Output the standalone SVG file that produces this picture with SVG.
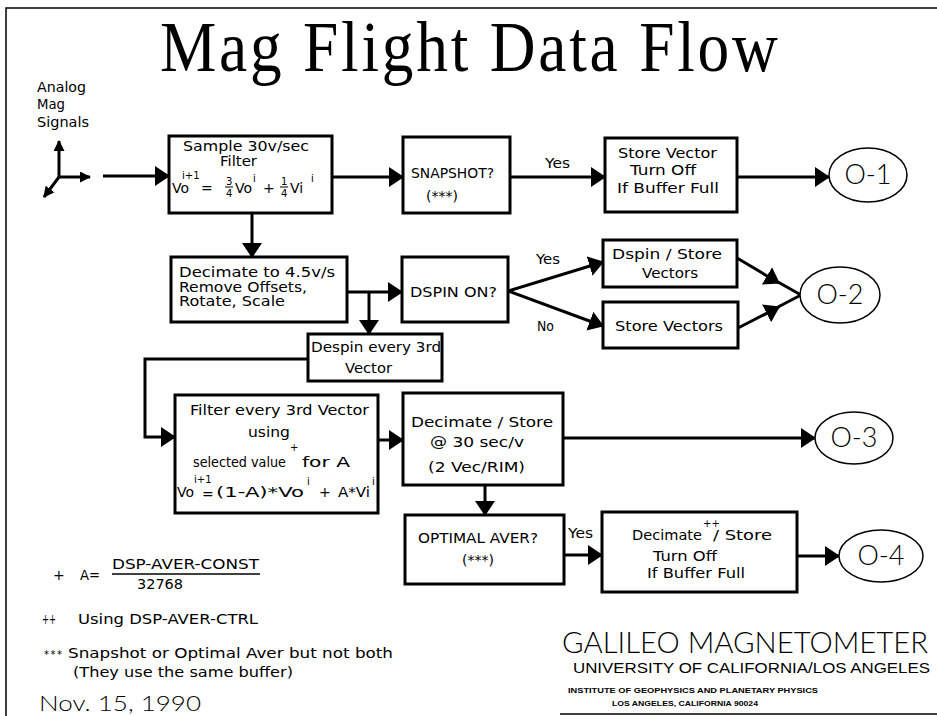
<svg xmlns="http://www.w3.org/2000/svg" width="937" height="716" viewBox="0 0 937 716">
<style>
.box{fill:#fff;stroke:#000;stroke-width:3}
.ln{fill:none;stroke:#000;stroke-width:3}
.thin{fill:none;stroke:#000;stroke-width:1.5}
.t{font-family:"DejaVu Sans",sans-serif;font-size:14px;fill:#000}
.c{text-anchor:middle}
.s{font-size:10px}
.o{font-family:Lato,"Liberation Sans",sans-serif;font-weight:300;font-size:27px;fill:#000;text-anchor:middle}
.ell{fill:#fff;stroke:#000;stroke-width:1.5}
.lt{font-family:Lato,"Liberation Sans",sans-serif;font-weight:300;fill:#000}
</style>
<defs>
<marker id="ah" viewBox="0 0 15 20" refX="14" refY="10" markerWidth="15" markerHeight="20" markerUnits="userSpaceOnUse" orient="auto"><path d="M0,0 L15,10 L0,20 z" fill="#000"/></marker>
<marker id="ahs" viewBox="0 0 11 11" refX="10" refY="5.5" markerWidth="11" markerHeight="11" markerUnits="userSpaceOnUse" orient="auto"><path d="M0,0 L11,5.5 L0,11 z" fill="#000"/></marker>
</defs>
<rect width="937" height="716" fill="#fff"/>
<path class="thin" d="M6,716 L6,8 L937,8"/>
<line class="thin" x1="560" y1="714" x2="937" y2="714"/>

<text transform="translate(160,71) scale(0.88,1)" font-family="Liberation Serif,serif" font-size="72" textLength="702">Mag Flight Data Flow</text>

<g id="signals">
<text class="t" x="37" y="92" font-size="13" textLength="49" lengthAdjust="spacingAndGlyphs">Analog</text>
<text class="t" x="37" y="109" font-size="13" textLength="28" lengthAdjust="spacingAndGlyphs">Mag</text>
<text class="t" x="37" y="127" font-size="13" textLength="52" lengthAdjust="spacingAndGlyphs">Signals</text>
<line class="ln" x1="59" y1="177" x2="59" y2="141" marker-end="url(#ahs)"/>
<line class="ln" x1="58" y1="177" x2="90" y2="177" marker-end="url(#ahs)"/>
<line class="ln" x1="59" y1="177" x2="44" y2="197" marker-end="url(#ahs)"/>
</g>

<g id="connectors">
<line class="ln" x1="103" y1="176" x2="169" y2="176" marker-end="url(#ah)"/>
<line class="ln" x1="332" y1="177" x2="403" y2="177" marker-end="url(#ah)"/>
<line class="ln" x1="510" y1="177" x2="605" y2="177" marker-end="url(#ah)"/>
<line class="ln" x1="737" y1="177" x2="829" y2="177" marker-end="url(#ah)"/>
<line class="ln" x1="252" y1="213" x2="252" y2="257" marker-end="url(#ah)"/>
<line class="ln" x1="347" y1="292" x2="402" y2="292" marker-end="url(#ah)"/>
<line class="ln" x1="369" y1="292" x2="369" y2="334" marker-end="url(#ah)"/>
<line class="ln" x1="508" y1="291" x2="603" y2="262" marker-end="url(#ah)"/>
<line class="ln" x1="508" y1="291" x2="603" y2="326" marker-end="url(#ah)"/>
<line class="ln" x1="737" y1="258" x2="779" y2="283" marker-end="url(#ah)"/>
<line class="ln" x1="778" y1="282" x2="801" y2="295"/>
<line class="ln" x1="738" y1="328" x2="779" y2="307" marker-end="url(#ah)"/>
<line class="ln" x1="778" y1="307" x2="801" y2="295"/>
<polyline class="ln" points="308,359 145,359 145,437 175,437" marker-end="url(#ah)"/>
<line class="ln" x1="378" y1="440" x2="403" y2="440" marker-end="url(#ah)"/>
<line class="ln" x1="563" y1="438" x2="815" y2="438" marker-end="url(#ah)"/>
<line class="ln" x1="485" y1="485" x2="485" y2="515" marker-end="url(#ah)"/>
<line class="ln" x1="564" y1="555" x2="602" y2="555" marker-end="url(#ah)"/>
<line class="ln" x1="797" y1="556" x2="839" y2="556" marker-end="url(#ah)"/>
<text class="t" x="545" y="168" textLength="25" lengthAdjust="spacingAndGlyphs">Yes</text>
<text class="t" x="536" y="264" textLength="24" lengthAdjust="spacingAndGlyphs">Yes</text>
<text class="t" x="537" y="331" textLength="17" lengthAdjust="spacingAndGlyphs">No</text>
<text class="t" x="568" y="538" textLength="25" lengthAdjust="spacingAndGlyphs">Yes</text>
</g>

<g id="sample">
<rect class="box" x="169" y="136" width="163" height="77"/>
<text class="t" x="183" y="151" font-size="12" textLength="126" lengthAdjust="spacingAndGlyphs">Sample 30v/sec</text>
<text class="t" x="220" y="166" font-size="11.5" textLength="37" lengthAdjust="spacingAndGlyphs">Filter</text>
<text class="t" x="172" y="193">Vo</text>
<text class="t s" x="182" y="179">i+1</text>
<text class="t" x="201" y="193">=</text>
<text class="t s" x="226" y="185">3</text>
<line x1="225" y1="187" x2="233" y2="187" stroke="#000" stroke-width="1"/>
<text class="t s" x="226" y="197">4</text>
<text class="t" x="235" y="193">Vo</text>
<text class="t s" x="253" y="182">i</text>
<text class="t" x="263" y="193">+</text>
<text class="t s" x="281" y="185">1</text>
<line x1="280" y1="187" x2="288" y2="187" stroke="#000" stroke-width="1"/>
<text class="t s" x="281" y="197">4</text>
<text class="t" x="290" y="193">Vi</text>
<text class="t s" x="311" y="182">i</text>
</g>

<g id="snapshot">
<rect class="box" x="403" y="137" width="107" height="76"/>
<text class="t" x="411" y="178" textLength="83" lengthAdjust="spacingAndGlyphs">SNAPSHOT?</text>
<text class="t c" x="442" y="201" font-size="12">(***)</text>
</g>

<g id="storevector">
<rect class="box" x="605" y="138" width="132" height="74"/>
<text class="t" x="618" y="158" textLength="99" lengthAdjust="spacingAndGlyphs">Store Vector</text>
<text class="t" x="630" y="175" textLength="66" lengthAdjust="spacingAndGlyphs">Turn Off</text>
<text class="t" x="617" y="193" textLength="102" lengthAdjust="spacingAndGlyphs">If Buffer Full</text>
</g>

<g id="o1">
<ellipse class="ell" cx="868" cy="175" rx="39" ry="27"/>
<text class="o" x="868" y="184">O-1</text>
</g>

<g id="decimate">
<rect class="box" x="171" y="257" width="176" height="65"/>
<text class="t" x="179" y="277" font-size="12" textLength="156" lengthAdjust="spacingAndGlyphs">Decimate to 4.5v/s</text>
<text class="t" x="179" y="291.5" font-size="12" textLength="128" lengthAdjust="spacingAndGlyphs">Remove Offsets,</text>
<text class="t" x="179" y="306" font-size="12" textLength="106" lengthAdjust="spacingAndGlyphs">Rotate, Scale</text>
</g>

<g id="dspinon">
<rect class="box" x="402" y="257" width="106" height="65"/>
<text class="t" x="410" y="297" textLength="87" lengthAdjust="spacingAndGlyphs">DSPIN ON?</text>
</g>

<g id="dspinstore">
<rect class="box" x="603" y="240" width="134" height="47"/>
<text class="t" x="612" y="259" textLength="110" lengthAdjust="spacingAndGlyphs">Dspin / Store</text>
<text class="t" x="642" y="278" textLength="56" lengthAdjust="spacingAndGlyphs">Vectors</text>
</g>

<g id="storevectors">
<rect class="box" x="603" y="302" width="135" height="46"/>
<text class="t" x="615" y="331" textLength="108" lengthAdjust="spacingAndGlyphs">Store Vectors</text>
</g>

<g id="o2">
<ellipse class="ell" cx="840" cy="295" rx="40" ry="28"/>
<text class="o" x="840" y="304">O-2</text>
</g>

<g id="despin">
<rect class="box" x="308" y="334" width="134" height="47"/>
<text class="t" x="311" y="352" textLength="130" lengthAdjust="spacingAndGlyphs">Despin every 3rd</text>
<text class="t" x="345" y="373" textLength="47" lengthAdjust="spacingAndGlyphs">Vector</text>
</g>

<g id="filter">
<rect class="box" x="175" y="395" width="203" height="118"/>
<text class="t" x="190" y="415" textLength="179" lengthAdjust="spacingAndGlyphs">Filter every 3rd Vector</text>
<text class="t" x="248" y="437" textLength="42" lengthAdjust="spacingAndGlyphs">using</text>
<text class="t" x="193" y="467" textLength="93" lengthAdjust="spacingAndGlyphs">selected value</text>
<text class="t s" x="290" y="451">+</text>
<text class="t" x="302" y="467" font-size="15" textLength="48" lengthAdjust="spacingAndGlyphs">for A</text>
<text class="t" x="177" y="497">Vo</text>
<text class="t s" x="194" y="483">i+1</text>
<text class="t" x="202" y="499">=</text>
<text class="t" x="216" y="497" font-size="15" textLength="88" lengthAdjust="spacingAndGlyphs">(1-A)*Vo</text>
<text class="t s" x="307" y="485">i</text>
<text class="t" x="319" y="497">+</text>
<text class="t" x="338" y="497" textLength="32" lengthAdjust="spacingAndGlyphs">A*Vi</text>
<text class="t s" x="372" y="485">i</text>
</g>

<g id="decstore">
<rect class="box" x="403" y="393" width="160" height="92"/>
<text class="t" x="411" y="427" textLength="142" lengthAdjust="spacingAndGlyphs">Decimate / Store</text>
<text class="t" x="430" y="447" textLength="94" lengthAdjust="spacingAndGlyphs">@ 30 sec/v</text>
<text class="t" x="428" y="472" textLength="97" lengthAdjust="spacingAndGlyphs">(2 Vec/RIM)</text>
</g>

<g id="o3">
<ellipse class="ell" cx="854" cy="438" rx="39" ry="26"/>
<text class="o" x="854" y="447">O-3</text>
</g>

<g id="optimal">
<rect class="box" x="405" y="515" width="159" height="69"/>
<text class="t" x="418" y="543" textLength="120" lengthAdjust="spacingAndGlyphs">OPTIMAL AVER?</text>
<text class="t c" x="478" y="565" font-size="12">(***)</text>
</g>

<g id="decstore2">
<rect class="box" x="602" y="512" width="195" height="80"/>
<text class="t" x="632" y="540" textLength="70" lengthAdjust="spacingAndGlyphs">Decimate</text>
<text class="t s" x="703" y="527">++</text>
<text class="t" x="713" y="540" textLength="59" lengthAdjust="spacingAndGlyphs">/ Store</text>
<text class="t" x="653" y="561" textLength="64" lengthAdjust="spacingAndGlyphs">Turn Off</text>
<text class="t" x="647" y="578" textLength="98" lengthAdjust="spacingAndGlyphs">If Buffer Full</text>
</g>

<g id="o4">
<ellipse class="ell" cx="881" cy="556" rx="42" ry="26"/>
<text class="o" x="881" y="565">O-4</text>
</g>

<g id="notes">
<text class="t" x="53" y="580">+</text>
<text class="t" x="80" y="580" textLength="20" lengthAdjust="spacingAndGlyphs">A=</text>
<text class="t" x="112" y="569" textLength="147" lengthAdjust="spacingAndGlyphs">DSP-AVER-CONST</text>
<line x1="112" y1="574" x2="260" y2="574" stroke="#000" stroke-width="1.5"/>
<text class="t" x="137" y="589" textLength="46" lengthAdjust="spacingAndGlyphs">32768</text>
<text class="t" x="42" y="624" font-size="11" textLength="14" lengthAdjust="spacingAndGlyphs">++</text>
<text class="t" x="78" y="624" textLength="180" lengthAdjust="spacingAndGlyphs">Using DSP-AVER-CTRL</text>
<text class="t s" x="44" y="658" textLength="18">***</text>
<text class="t" x="68" y="658" textLength="325" lengthAdjust="spacingAndGlyphs">Snapshot or Optimal Aver but not both</text>
<text class="t" x="73" y="677" textLength="220" lengthAdjust="spacingAndGlyphs">(They use the same buffer)</text>
<text class="lt" x="39" y="711" font-size="22" textLength="162" lengthAdjust="spacingAndGlyphs">Nov. 15, 1990</text>
</g>

<g id="credits">
<text class="lt" x="562" y="653" font-size="29" textLength="366" lengthAdjust="spacingAndGlyphs">GALILEO MAGNETOMETER</text>
<text x="573" y="673" font-family="Liberation Sans,sans-serif" font-size="15" textLength="357" lengthAdjust="spacingAndGlyphs">UNIVERSITY OF CALIFORNIA/LOS ANGELES</text>
<text x="568" y="693" font-family="Liberation Sans,sans-serif" font-size="8" font-weight="bold" textLength="250" lengthAdjust="spacingAndGlyphs">INSTITUTE OF GEOPHYSICS AND PLANETARY PHYSICS</text>
<text x="612" y="706" font-family="Liberation Sans,sans-serif" font-size="8" font-weight="bold" textLength="146" lengthAdjust="spacingAndGlyphs">LOS ANGELES, CALIFORNIA 90024</text>
</g>
</svg>
